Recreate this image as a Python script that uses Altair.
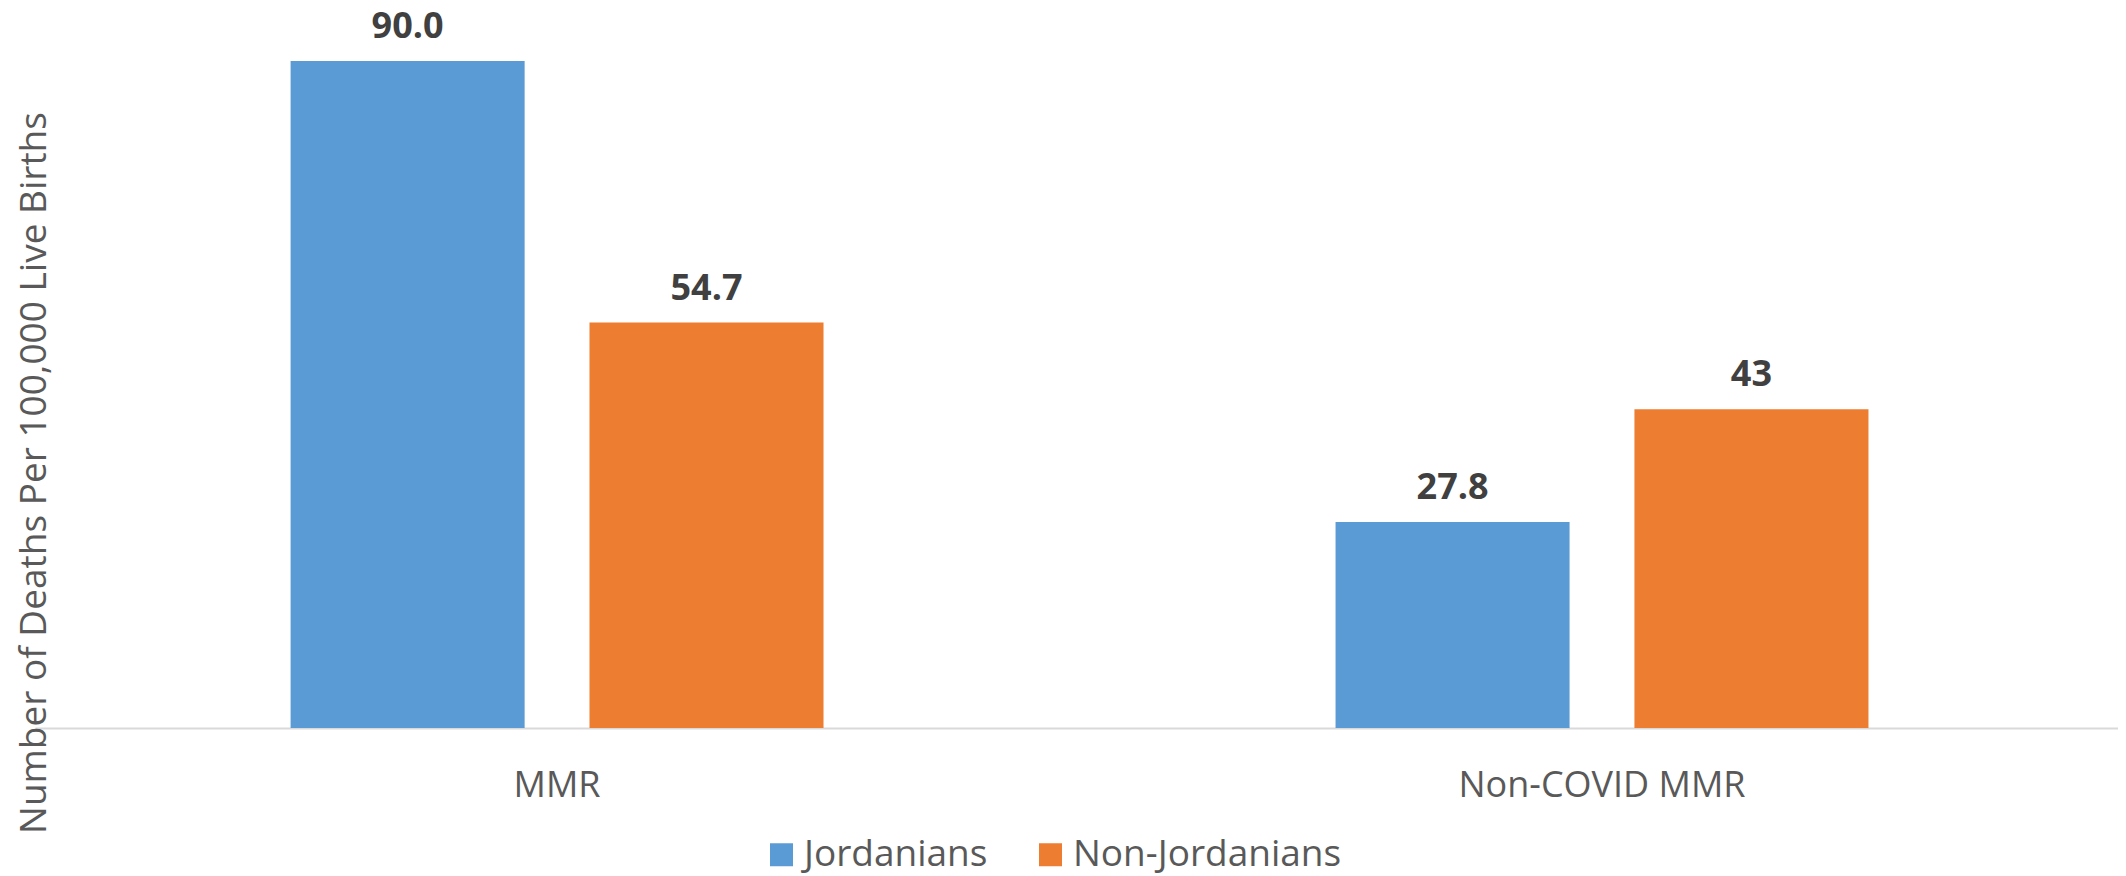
import altair as alt
import pandas as pd

indicators = ["MMR", "MMR", "Non-COVID MMR", "Non-COVID MMR"]
groups = ["Jordanians", "Non-Jordanians", "Jordanians", "Non-Jordanians"]
values = [90.0, 54.7, 27.8, 43.0]
labels = ["90.0", "54.7", "27.8", "43"]

cat_order = ["MMR", "Non-COVID MMR"]
group_order = ["Jordanians", "Non-Jordanians"]
colors = ["#5B9BD5", "#ED7D31"]

df = pd.DataFrame({"indicator": indicators, "group": groups, "value": values, "label": labels})

FONT = "Open Sans"

x_enc = alt.X(
    "indicator:N",
    sort=cat_order,
    scale=alt.Scale(paddingInner=0.49, paddingOuter=0.2417, align=0.506),
    axis=alt.Axis(
        title=None, ticks=False, tickSize=0, labelPadding=68, labelBaseline="alphabetic",
        labelFont=FONT, labelFontSize=36, labelColor="#595959", labelAngle=0, labelLimit=0,
        domainColor="#D9D9D9", domainWidth=2, grid=False,
    ),
)
xoff_enc = alt.XOffset("group:N", sort=group_order, scale=alt.Scale(paddingInner=0.217, paddingOuter=0))
y_enc = alt.Y(
    "value:Q",
    scale=alt.Scale(domain=[0, 96.07], nice=False, zero=True),
    axis=alt.Axis(
        title="Number of Deaths Per 100,000 Live Births", labels=False, ticks=False, domain=False, grid=False,
        titleX=10, titleY=456.5, titleAngle=270, titleAlign="center", titleBaseline="alphabetic",
        titleFont=FONT, titleFontSize=37, titleFontWeight="normal", titleColor="#595959",
    ),
)

base = alt.Chart(df).encode(x=x_enc, xOffset=xoff_enc, y=y_enc)

bars = base.mark_bar().encode(
    color=alt.Color(
        "group:N",
        sort=group_order,
        scale=alt.Scale(domain=group_order, range=colors),
        legend=alt.Legend(
            title=None, orient="none", legendX=728, legendY=820, direction="horizontal",
            symbolType="square", symbolSize=529, symbolStrokeWidth=0,
            labelFont=FONT, labelFontSize=37, labelColor="#595959", labelOffset=4,
            columnPadding=44, padding=0, labelLimit=0,
        ),
    )
)

text = base.mark_text(
    baseline="alphabetic", align="center", dy=-23, font=FONT, fontSize=36, fontWeight="bold", color="#404040"
).encode(text="label:N")

chart = (
    alt.layer(bars, text)
    .properties(
        width=2083, height=712,
        padding={"left": 27, "top": 8, "right": 0, "bottom": 156},
        autosize=alt.AutoSizeParams(type="none"),
        background="white",
    )
    .configure_view(stroke=None)
)

chart.save("out.html", embed_options={"renderer": "svg", "actions": False})
